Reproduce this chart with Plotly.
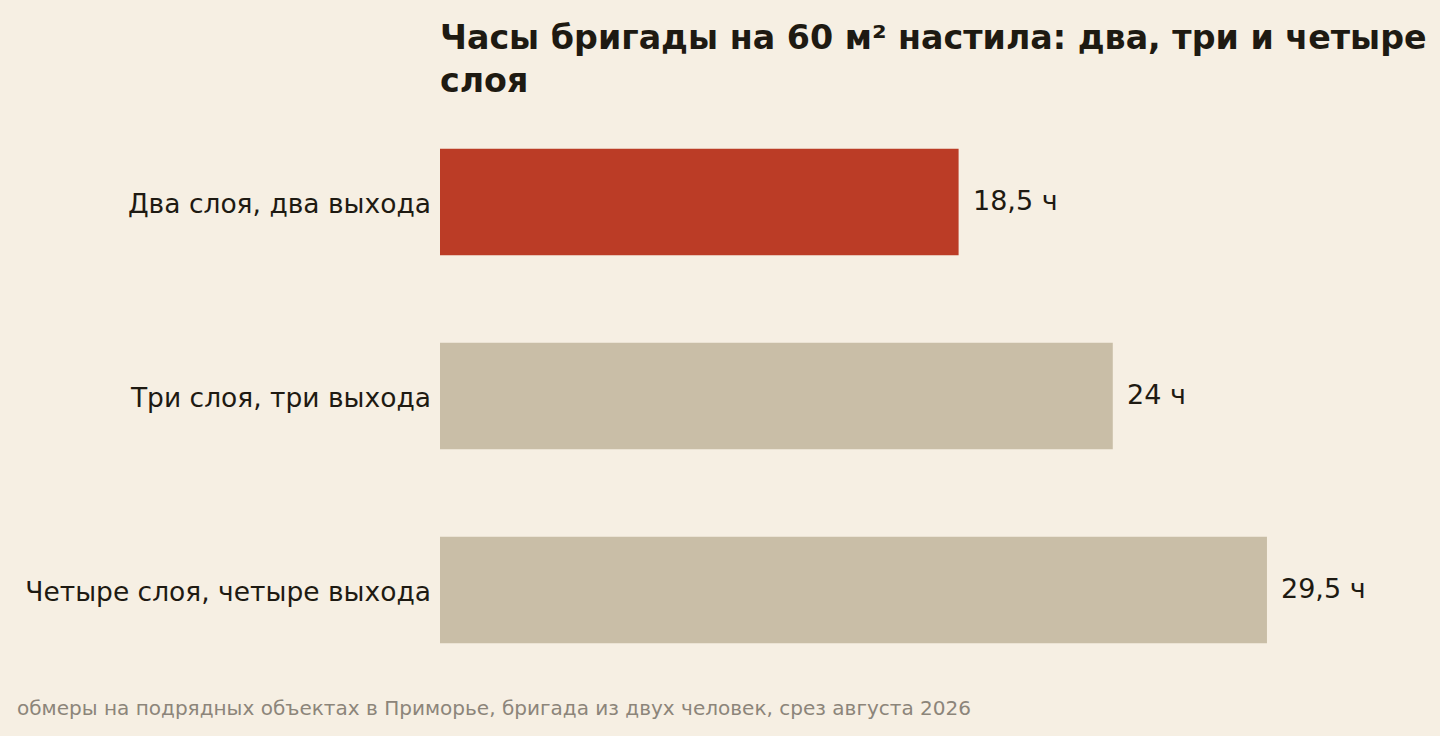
import plotly.graph_objects as go

categories = ["Два слоя, два выхода", "Три слоя, три выхода", "Четыре слоя, четыре выхода"]
hours = [18.5, 24, 29.5]
value_labels = ["18,5 ч", "24 ч", "29,5 ч"]
colors = ["#bb3c26", "#c9bea7", "#c9bea7"]

title_text = "Часы бригады на 60 м² настила: два, три и четыре<br>слоя"
note_text = "обмеры на подрядных объектах в Приморье, бригада из двух человек, срез августа 2026"

BG = "#f6efe3"
INK = "#1e1a12"
FONT = "DejaVu Sans"

fig = go.Figure()
fig.add_trace(go.Bar(
    x=hours, y=categories, orientation="h",
    marker=dict(color=colors, line=dict(width=0)),
    width=0.55, hoverinfo="skip",
))

for v, c, t in zip(hours, categories, value_labels):
    fig.add_annotation(x=v, y=c, text=t, showarrow=False, xanchor="left",
                       xshift=12, yshift=2, font=dict(family=FONT, size=27, color=INK))

fig.add_annotation(xref="paper", yref="paper", x=-0.4469, y=0, xanchor="left", yanchor="middle",
                   yshift=-21, text=note_text, showarrow=False,
                   font=dict(family=FONT, size=20.05, color="#8c857a"))

fig.update_layout(
    width=1440, height=736,
    paper_bgcolor=BG, plot_bgcolor=BG,
    margin=dict(l=440, r=49, t=105, b=49),
    showlegend=False,
    title=dict(text=title_text, x=440/1440, xref="container", xanchor="left",
               y=1 - 48.5/736, yref="container", yanchor="top",
               font=dict(family=FONT, size=33.3, color=INK, weight="bold")),
    xaxis=dict(range=[0, 29.5 * 1.15], visible=False, fixedrange=True),
    yaxis=dict(autorange="reversed", showgrid=False, zeroline=False, showline=False,
               ticks="", ticklabelstandoff=8, ticklabelshift=-2,
               tickfont=dict(family=FONT, size=26.5, color=INK)),
    font=dict(family=FONT, color=INK),
)

fig.write_html("out.html", config={"displayModeBar": False},
               post_script="document.body.style.margin='0';document.body.style.background='%s';" % BG)
